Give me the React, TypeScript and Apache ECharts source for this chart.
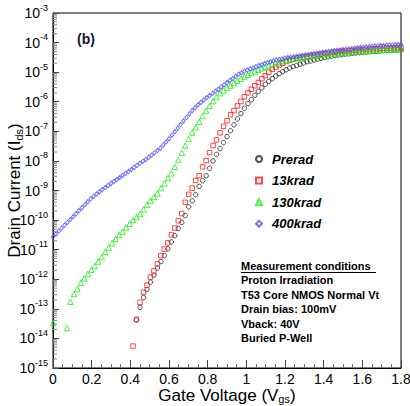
import { useEffect, useRef } from "react";
import * as echarts from "echarts";

// Gate sweep: first gate voltage of each series and voltage step (V)
const SWEEP_STEP = 0.018;
const SWEEP_STEP_400 = 0.015;
const preradV0 = 0.432;
const kr13V0 = 0.414;
const kr130V0 = 0;
const kr400V0 = 0;

// log10 of drain current (A); null = point not shown (non-positive current)
const preradLogI = [
  -13.38, -12.95, -12.62, -12.35, -12.1, -11.86, -11.62, -11.4, -11.2, -10.97,
  -10.74, -10.53, -10.28, -10.08, -9.85, -9.55, -9.35, -9.14, -8.86, -8.67,
  -8.5, -8.25, -8.0, -7.78, -7.58, -7.38, -7.18, -6.98, -6.78, -6.58,
  -6.4, -6.22, -6.06, -5.93, -5.78, -5.65, -5.53, -5.41, -5.31, -5.22,
  -5.13, -5.05, -4.98, -4.92, -4.86, -4.81, -4.77, -4.73, -4.69, -4.65,
  -4.62, -4.59, -4.56, -4.53, -4.5, -4.48, -4.46, -4.44, -4.42, -4.41,
  -4.39, -4.38, -4.36, -4.35, -4.34, -4.33, -4.32, -4.31, -4.3, -4.29,
  -4.28, -4.27, -4.27, -4.26, -4.25, -4.25, -4.24,
];

const kr13LogI = [
  -14.26, -13.35, -12.78, -12.44, -12.2, -11.93, -11.72, -11.48, -11.2, -10.98,
  -10.77, -10.5, -10.27, -10.02, -9.78, -9.4, -9.13, -8.92, -8.66, -8.5,
  -8.2, -7.99, -7.72, -7.48, -7.29, -7.05, -6.83, -6.64, -6.44, -6.3,
  -6.14, -5.99, -5.83, -5.7, -5.58, -5.46, -5.35, -5.22, -5.12, -5.0,
  -4.9, -4.83, -4.76, -4.7, -4.64, -4.59, -4.56, -4.53, -4.51, -4.49,
  -4.47, -4.45, -4.43, -4.41, -4.39, -4.37, -4.36, -4.34, -4.33, -4.31,
  -4.3, -4.29, -4.28, -4.27, -4.26, -4.25, -4.24, -4.23, -4.22, -4.21,
  -4.21, -4.2, -4.19, -4.19, -4.18, -4.18, -4.17, -4.17,
];

const kr130LogI = [
  -13.48, null, null, null, -13.65, -12.76, -12.5, -12.33, -12.12, -11.97,
  -11.82, -11.68, -11.55, -11.4, -11.25, -11.08, -10.93, -10.78, -10.64, -10.5,
  -10.4, -10.25, -10.12, -10.0, -9.9, -9.8, -9.64, -9.48, -9.34, -9.22,
  -9.1, -8.92, -8.76, -8.58, -8.42, -8.2, -7.97, -7.72, -7.48, -7.26,
  -7.04, -6.86, -6.68, -6.48, -6.3, -6.14, -5.98, -5.84, -5.71, -5.62,
  -5.53, -5.45, -5.37, -5.29, -5.22, -5.15, -5.09, -5.03, -4.97, -4.92,
  -4.87, -4.82, -4.77, -4.72, -4.69, -4.66, -4.63, -4.6, -4.57, -4.55,
  -4.53, -4.51, -4.49, -4.47, -4.46, -4.44, -4.43, -4.41, -4.4, -4.39,
  -4.38, -4.37, -4.36, -4.35, -4.34, -4.33, -4.32, -4.31, -4.3, -4.29,
  -4.28, -4.27, -4.26, -4.26, -4.25, -4.24, -4.24, -4.23, -4.23, -4.22, -4.22,
];

const kr400LogI = [
  -10.57, -10.47, -10.37, -10.27, -10.17, -10.08, -9.98, -9.88, -9.78, -9.68,
  -9.58, -9.48, -9.38, -9.28, -9.2, -9.12, -9.04, -8.97, -8.9, -8.83,
  -8.76, -8.69, -8.63, -8.56, -8.49, -8.42, -8.36, -8.29, -8.22, -8.15,
  -8.08, -8.01, -7.95, -7.88, -7.81, -7.73, -7.65, -7.57, -7.46, -7.36,
  -7.25, -7.13, -7.01, -6.89, -6.77, -6.65, -6.53, -6.41, -6.3, -6.2,
  -6.1, -6.02, -5.94, -5.86, -5.79, -5.72, -5.65, -5.58, -5.5, -5.43,
  -5.35, -5.28, -5.21, -5.14, -5.07, -5.02, -4.97, -4.93, -4.89, -4.86,
  -4.82, -4.78, -4.75, -4.71, -4.68, -4.65, -4.62, -4.59, -4.57, -4.55,
  -4.53, -4.51, -4.5, -4.48, -4.47, -4.45, -4.44, -4.42, -4.41, -4.39,
  -4.38, -4.36, -4.35, -4.33, -4.32, -4.3, -4.29, -4.27, -4.26, -4.25,
  -4.24, -4.23, -4.22, -4.21, -4.19, -4.18, -4.17, -4.16, -4.15, -4.14,
  -4.13, -4.12, -4.11, -4.1, -4.1, -4.09, -4.08, -4.08, -4.07, -4.07, -4.06,
];

const seriesNames = ["Prerad", "13krad", "130krad", "400krad"];
const xTickStep = 0.2;

const conditionLines = [
  "Proton Irradiation",
  "T53 Core NMOS Normal Vt",
  "Drain bias: 100mV",
  "Vback: 40V",
  "Buried P-Well",
];

const FONT = "'Liberation Sans', Arial, Helvetica, sans-serif";

function toPoints(v0: number, step: number, logs: (number | null)[]) {
  const pts: number[][] = [];
  logs.forEach((e, i) => {
    if (e === null) return;
    pts.push([+(v0 + i * step).toFixed(4), Math.pow(10, e)]);
  });
  return pts;
}

// log-distributed minor ticks (2..9 x 10^n) for the current axis
const minorTicks: number[][] = [];
for (let n = -15; n < -3; n++) {
  for (let k = 2; k <= 9; k++) minorTicks.push([0, k * Math.pow(10, n)]);
}

const titleRich = {
  sub: { fontFamily: FONT, fontSize: 11, color: "#000", verticalAlign: "bottom", lineHeight: 8 },
};

export default function App() {
  const ref = useRef<HTMLDivElement>(null);

  useEffect(() => {
    if (!ref.current) return;
    const chart = echarts.init(ref.current, undefined, { renderer: "svg" });

    const scatter = (
      name: string,
      data: number[][],
      symbol: string,
      size: number | number[],
      color: string
    ) => ({
      name,
      type: "scatter",
      data,
      symbol,
      symbolSize: size,
      itemStyle: { color: "rgba(255,255,255,0)", borderColor: color, borderWidth: 1 },
      emphasis: { disabled: true },
    });

    const textTop = 260;
    const lineGap = 14.6;

    chart.setOption({
      animation: false,
      backgroundColor: "#fff",
      grid: {
        left: 53,
        top: 13,
        width: 348,
        height: 355,
        outerBoundsMode: "none",
        containLabel: false,
        show: true,
        borderColor: "#000",
        borderWidth: 1,
        backgroundColor: "rgba(0,0,0,0)",
      },
      legend: {
        orient: "vertical",
        left: 250,
        top: 146,
        itemWidth: 6,
        itemHeight: 6,
        itemGap: 5.6,
        data: seriesNames,
        textStyle: {
          fontFamily: FONT,
          fontSize: 13,
          fontWeight: "bold",
          fontStyle: "italic",
          color: "#000",
          lineHeight: 16,
          padding: [0, 0, 0, 5],
        },
      },
      xAxis: {
        type: "value",
        min: 0,
        max: 1.8,
        interval: xTickStep,
        name: "Gate Voltage (V{sub|gs})",
        nameLocation: "middle",
        nameGap: 18,
        nameMoveOverlap: false,
        nameTextStyle: {
          fontFamily: FONT,
          fontSize: 17,
          color: "#000",
          lineHeight: 18,
          rich: titleRich,
        },
        axisLine: { lineStyle: { color: "#000", width: 1 } },
        axisTick: { inside: true, length: 8, lineStyle: { color: "#444" } },
        minorTick: { show: true, splitNumber: 4, length: 4, lineStyle: { color: "#666" } },
        splitLine: { show: false },
        axisLabel: {
          fontFamily: FONT,
          fontSize: 14,
          lineHeight: 14,
          color: "#000",
          margin: 4,
          formatter: (v: number) => String(+v.toFixed(1)),
        },
      },
      yAxis: {
        type: "log",
        logBase: 10,
        min: 1e-15,
        max: 1e-3,
        interval: 1,
        splitNumber: 12,
        name: "Drain Current (I{sub|ds})",
        nameLocation: "middle",
        nameRotate: 90,
        nameGap: 29,
        nameMoveOverlap: false,
        nameTextStyle: {
          fontFamily: FONT,
          fontSize: 17,
          color: "#000",
          lineHeight: 20,
          rich: titleRich,
        },
        axisLine: { lineStyle: { color: "#000", width: 1 } },
        axisTick: { inside: true, length: 6, interval: 0, lineStyle: { color: "#444" } },
        splitLine: { show: false },
        axisLabel: {
          fontFamily: FONT,
          color: "#000",
          margin: 5,
          interval: 0,
          hideOverlap: false,
          formatter: (v: number) => `{b|10}{s|${Math.round(Math.log10(v))}}`,
          rich: {
            b: { fontFamily: FONT, fontSize: 14, color: "#000", lineHeight: 20 },
            s: { fontFamily: FONT, fontSize: 9, color: "#000", lineHeight: 9, verticalAlign: "top" },
          },
        },
      },
      series: [
        {
          type: "custom",
          silent: true,
          z: 1,
          renderItem: (_p: any, api: any) => {
            const pt = api.coord([0, api.value(1)]);
            return {
              type: "line",
              shape: { x1: pt[0], y1: pt[1], x2: pt[0] + 4, y2: pt[1] },
              style: { stroke: "#888", lineWidth: 1 },
            };
          },
          data: minorTicks,
        },
        scatter(seriesNames[0], toPoints(preradV0, SWEEP_STEP, preradLogI), "circle", 4.5, "#222222"),
        scatter(seriesNames[1], toPoints(kr13V0, SWEEP_STEP, kr13LogI), "rect", 4.5, "#ff1a1a"),
        scatter(seriesNames[2], toPoints(kr130V0, SWEEP_STEP, kr130LogI), "triangle", 5.5, "#1aee1a"),
        scatter(seriesNames[3], toPoints(kr400V0, SWEEP_STEP_400, kr400LogI), "diamond", [3.5, 4.5], "#5050ff"),
      ],
      graphic: [
        {
          type: "text",
          left: 77,
          top: 32,
          style: { text: "(b)", font: `bold 14px ${FONT}`, fill: "#141433" },
        },
        {
          type: "text",
          left: 241,
          top: textTop,
          style: { text: "Measurement conditions", font: `bold 11px ${FONT}`, fill: "#000" },
        },
        {
          type: "line",
          shape: { x1: 241, y1: 272.5, x2: 376, y2: 272.5 },
          style: { stroke: "#000", lineWidth: 1 },
        },
        ...conditionLines.map((t, i) => ({
          type: "text",
          left: 241,
          top: textTop + 14.5 + i * lineGap,
          style: { text: t, font: `bold 11px ${FONT}`, fill: "#000" },
        })),
      ],
    });

    return () => chart.dispose();
  }, []);

  return (
    <div
      ref={ref}
      style={{ position: "fixed", left: 0, top: 0, width: 410, height: 406, background: "#fff" }}
    />
  );
}
